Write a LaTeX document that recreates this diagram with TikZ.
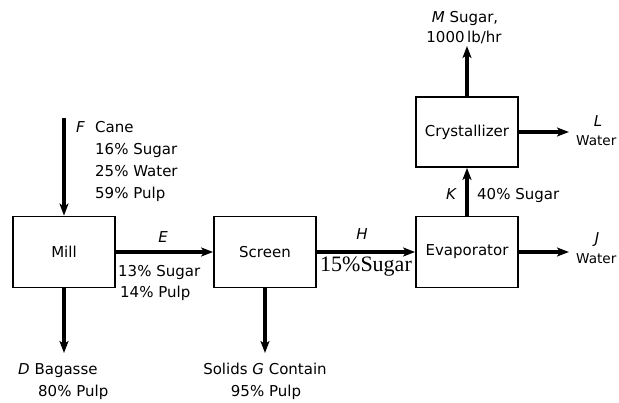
\documentclass[tikz,border=0pt]{standalone}
\usepackage{fontspec}
\setmainfont{DejaVu Sans}
\newfontfamily\serifx{Liberation Serif}
\usetikzlibrary{arrows.meta}
\begin{document}
\begin{tikzpicture}[x=1pt,y=-1pt,
  box/.style={draw,line width=1.8pt,minimum width=102pt,minimum height=71pt,inner sep=0pt,font=\fontsize{15}{15}\selectfont},
  flow/.style={line width=3.4pt,-{Stealth[length=12pt,width=9pt,inset=3pt]}},
  lbl/.style={inner sep=0pt,font=\fontsize{15}{15}\selectfont},
  small/.style={inner sep=0pt,font=\fontsize{13.6}{13.6}\selectfont},
  var/.style={inner sep=0pt,font=\fontsize{15}{15}\selectfont\itshape}]
\useasboundingbox (0,0) rectangle (619,403);
% units
\node[box] (mill) at (64,252) {Mill};
\node[box] (screen) at (265,252) {Screen};
\node[box] (evap) at (467,252) {Evaporator};
\node[box,minimum height=70pt] (cryst) at (467,132) {Crystallizer};
% free ends
\coordinate (Fin) at (64,118);
\coordinate (Dout) at (64,353);
\coordinate (Gout) at (265,353);
\coordinate (Jout) at (569,252);
\coordinate (Lout) at (569,132);
\coordinate (Mout) at (467,46);
% streams
\draw[flow] (Fin) -- (mill.north);
\draw[flow] (mill.south) -- (Dout);
\draw[flow] (mill.east) -- (screen.west);
\draw[flow] (screen.south) -- (Gout);
\draw[flow] (screen.east) -- (evap.west);
\draw[flow] (evap.east) -- (Jout);
\draw[flow] (evap.north) -- (cryst.south);
\draw[flow] (cryst.east) -- (Lout);
\draw[flow] (cryst.north) -- (Mout);
% F labels
\node[var,anchor=base west] (fF) at (76,133) {F};
\node[lbl,anchor=base west] (f1) at (95,133) {Cane};
\node[lbl,anchor=base west] (f2) at (95,155) {16\% Sugar};
\node[lbl,anchor=base west] (f3) at (95,177) {25\% Water};
\node[lbl,anchor=base west] (f4) at (95,199) {59\% Pulp};
% E labels
\node[var,anchor=base] (eE) at (163,243) {E};
\node[lbl,anchor=base west] (e1) at (118,277) {13\% Sugar};
\node[lbl,anchor=base west] (e2) at (120,298) {14\% Pulp};
% D labels
\node[lbl,anchor=base west] (d1) at (18,375) {\textit{D} Bagasse};
\node[lbl,anchor=base west] (d2) at (38,397) {80\% Pulp};
% G labels
\node[lbl,anchor=base] (g1) at (265,375) {Solids \textit{G} Contain};
\node[lbl,anchor=base] (g2) at (266,397) {95\% Pulp};
% H labels
\node[var,anchor=base] (hH) at (362,240) {H};
\node[inner sep=0pt,anchor=base,font=\fontsize{22}{22}\selectfont\serifx] (h1) at (366,272) {15\%Sugar};
% J labels
\node[var,anchor=base] (jJ) at (597,244) {J};
\node[small,anchor=base west] (j1) at (576,264) {Water};
% K labels
\node[var,anchor=base] (kK) at (451,200) {K};
\node[lbl,anchor=base west] (k1) at (477,200) {40\% Sugar};
% L labels
\node[var,anchor=base] (lL) at (598,127) {L};
\node[small,anchor=base west] (l1) at (576,146) {Water};
% M labels
\node[lbl,anchor=base] (m1) at (465,23) {\textit{M} Sugar,};
\node[lbl,anchor=base] (m2) at (464,43) {1000\,lb/hr};
\end{tikzpicture}
\end{document}
